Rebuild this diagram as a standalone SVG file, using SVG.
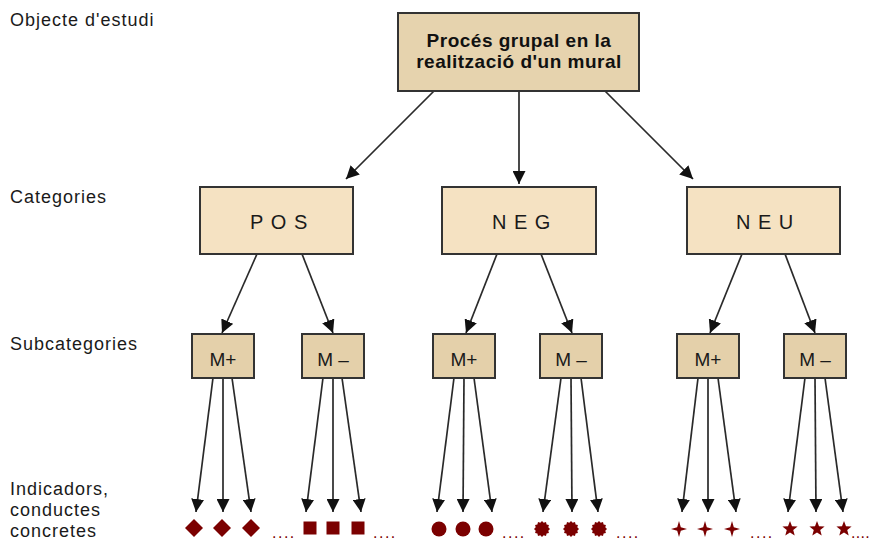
<svg xmlns="http://www.w3.org/2000/svg" xmlns:xlink="http://www.w3.org/1999/xlink" width="869" height="542" viewBox="0 0 869 542">
<style>
.lbl{font-family:"Liberation Sans",Arial,sans-serif;font-size:18px;fill:#1a1a1a;letter-spacing:1px}
.top{fill:#E6D3AE;stroke:#333;stroke-width:2}
.cat{fill:#F5E2C2;stroke:#333;stroke-width:2}
.sub{fill:#E4D0AA;stroke:#333;stroke-width:2}
.title{font-family:"Liberation Sans",Arial,sans-serif;font-size:19px;font-weight:bold;fill:#111;text-anchor:middle;letter-spacing:0.5px}
.ct{font-family:"Liberation Sans",Arial,sans-serif;font-size:20px;fill:#1a1a1a;letter-spacing:7.5px}
.st{font-family:"Liberation Sans",Arial,sans-serif;font-size:19px;fill:#1a1a1a;text-anchor:middle}
.conn line{stroke:#2a2a2a;stroke-width:1.7;marker-end:url(#ah)}
.ind{fill:#7B0000}
.dots{font-family:"Liberation Sans",Arial,sans-serif;font-size:16px;fill:#7B0000;letter-spacing:1.5px}
</style>
<defs>
<marker id="ah" viewBox="0 0 13 13" refX="13" refY="6.5" markerWidth="13" markerHeight="13" orient="auto" markerUnits="userSpaceOnUse">
<path d="M0,0 L13,6.5 L0,13 z" fill="#111"/>
</marker>
<polygon id="dia" points="0,-9 9,0 0,9 -9,0"/>
<rect id="sq" x="-6.5" y="-6.5" width="13" height="13"/>
<circle id="cir" r="7.5"/>
<polygon id="sun" points="8,0 6.28,1.68 6.93,4 4.6,4.6 4,6.93 1.68,6.28 0,8 -1.68,6.28 -4,6.93 -4.6,4.6 -6.93,4 -6.28,1.68 -8,0 -6.28,-1.68 -6.93,-4 -4.6,-4.6 -4,-6.93 -1.68,-6.28 0,-8 1.68,-6.28 4,-6.93 4.6,-4.6 6.93,-4 6.28,-1.68"/>
<polygon id="st4" points="8,0 1.8,1.8 0,8 -1.8,1.8 -8,0 -1.8,-1.8 0,-8 1.8,-1.8"/>
<polygon id="st5" points="0,-8 2,-2.75 7.61,-2.47 3.23,1.05 4.7,6.47 0,3.4 -4.7,6.47 -3.23,1.05 -7.61,-2.47 -2,-2.75"/>
</defs>
<rect width="869" height="542" fill="#fff"/>

<g id="level-labels">
<text class="lbl" x="10" y="26">Objecte d'estudi</text>
<text class="lbl" x="10" y="203">Categories</text>
<text class="lbl" x="10" y="350">Subcategories</text>
<text class="lbl" x="10" y="495">Indicadors,</text>
<text class="lbl" x="10" y="516">conductes</text>
<text class="lbl" x="10" y="537">concretes</text>
</g>

<g id="connectors" class="conn">
<line x1="434" y1="91" x2="346" y2="179"/>
<line x1="519" y1="91" x2="519" y2="184"/>
<line x1="605" y1="91" x2="693" y2="179"/>

<line x1="257" y1="254" x2="222" y2="333"/>
<line x1="302" y1="254" x2="333" y2="333"/>
<line x1="497" y1="254" x2="466" y2="333"/>
<line x1="541" y1="254" x2="572" y2="333"/>
<line x1="742" y1="254" x2="710" y2="333"/>
<line x1="785" y1="254" x2="815" y2="333"/>

<line x1="213" y1="378" x2="196" y2="512"/>
<line x1="223" y1="378" x2="223" y2="512"/>
<line x1="232" y1="378" x2="251" y2="512"/>
<line x1="323" y1="378" x2="306" y2="512"/>
<line x1="333" y1="378" x2="333" y2="512"/>
<line x1="342" y1="378" x2="361" y2="512"/>

<line x1="454" y1="378" x2="437" y2="512"/>
<line x1="464" y1="378" x2="463" y2="512"/>
<line x1="474" y1="378" x2="492" y2="512"/>
<line x1="561" y1="378" x2="543" y2="512"/>
<line x1="571" y1="378" x2="572" y2="512"/>
<line x1="581" y1="378" x2="598" y2="512"/>

<line x1="698" y1="378" x2="682" y2="512"/>
<line x1="708" y1="378" x2="708" y2="512"/>
<line x1="718" y1="378" x2="736" y2="512"/>
<line x1="805" y1="378" x2="788" y2="512"/>
<line x1="815" y1="378" x2="816" y2="512"/>
<line x1="825" y1="378" x2="843" y2="512"/>
</g>

<g id="node-objecte">
<rect class="top" x="398" y="13" width="241" height="78"/>
<text class="title" x="519" y="47">Procés grupal en la</text>
<text class="title" x="519" y="68">realització d'un mural</text>
</g>

<g id="node-pos">
<rect class="cat" x="200" y="187" width="153" height="67"/>
<text class="ct" x="250" y="229">POS</text>
</g>
<g id="node-neg">
<rect class="cat" x="442" y="187" width="154" height="67"/>
<text class="ct" x="492" y="229">NEG</text>
</g>
<g id="node-neu">
<rect class="cat" x="687" y="187" width="153" height="67"/>
<text class="ct" x="736" y="229">NEU</text>
</g>

<g id="node-pos-mplus">
<rect class="sub" x="192" y="334" width="62" height="44"/>
<text class="st" x="223" y="366">M+</text>
</g>
<g id="node-pos-mminus">
<rect class="sub" x="302" y="334" width="62" height="44"/>
<text class="st" x="333" y="366">M –</text>
</g>
<g id="node-neg-mplus">
<rect class="sub" x="433" y="334" width="62" height="44"/>
<text class="st" x="464" y="366">M+</text>
</g>
<g id="node-neg-mminus">
<rect class="sub" x="540" y="334" width="62" height="44"/>
<text class="st" x="571" y="366">M –</text>
</g>
<g id="node-neu-mplus">
<rect class="sub" x="677" y="334" width="62" height="44"/>
<text class="st" x="708" y="366">M+</text>
</g>
<g id="node-neu-mminus">
<rect class="sub" x="784" y="334" width="62" height="44"/>
<text class="st" x="815" y="366">M –</text>
</g>

<g id="indicators" class="ind">
<use xlink:href="#dia" x="194" y="528"/>
<use xlink:href="#dia" x="222" y="528"/>
<use xlink:href="#dia" x="251" y="528"/>
<use xlink:href="#sq" x="310" y="528"/>
<use xlink:href="#sq" x="333" y="528"/>
<use xlink:href="#sq" x="358" y="528"/>
<use xlink:href="#cir" x="439" y="529"/>
<use xlink:href="#cir" x="463" y="529"/>
<use xlink:href="#cir" x="486" y="529"/>
<use xlink:href="#sun" x="542" y="529"/>
<use xlink:href="#sun" x="571" y="529"/>
<use xlink:href="#sun" x="599" y="529"/>
<use xlink:href="#st4" x="679" y="529"/>
<use xlink:href="#st4" x="705" y="529"/>
<use xlink:href="#st4" x="732" y="529"/>
<use xlink:href="#st5" x="790" y="529"/>
<use xlink:href="#st5" x="817" y="529"/>
<use xlink:href="#st5" x="844" y="529"/>
</g>
<g id="ellipses">
<text class="dots" x="272" y="538">....</text>
<text class="dots" x="373" y="538">....</text>
<text class="dots" x="502" y="538">....</text>
<text class="dots" x="616" y="538">....</text>
<text class="dots" x="750" y="538">....</text>
<text class="dots" x="851" y="538" style="letter-spacing:0.3px">....</text>
</g>
</svg>
